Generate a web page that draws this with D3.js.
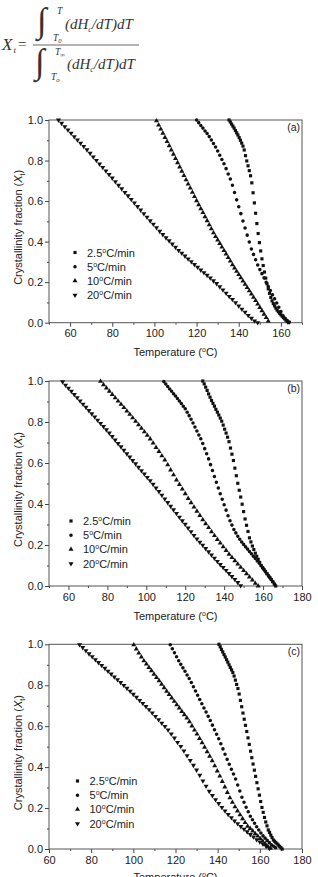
<!DOCTYPE html>
<html>
<head>
<meta charset="utf-8">
<script src="https://cdn.jsdelivr.net/npm/d3@7"></script>
<style>
body { margin: 0; background: #fff; }
svg { display: block; }
text { font-family: "Liberation Sans Narrow", "Arial Narrow", Arial, sans-serif; fill: #222; }
.eq text { font-family: "Liberation Serif", "DejaVu Serif", serif; font-style: italic; fill: #333; }
</style>
</head>
<body>
<svg id="fig" width="318" height="877"></svg>
<script>
// crystallinity fraction X(t) vs temperature
const rateLabels = ["2.5", "5", "10", "20"];
const panelTags = ["(a)", "(b)", "(c)"];
const yMajor = [0, 0.2, 0.4, 0.6, 0.8, 1.0];
const yMinor = [0.1, 0.3, 0.5, 0.7, 0.9];
const xMajorA = [60, 80, 100, 120, 140, 160];
const xMajorB = [60, 80, 100, 120, 140, 160, 180];
const xMajorC = [60, 80, 100, 120, 140, 160, 180];
const xMinorA = [50, 70, 90, 110, 130, 150, 170];
const xMinorB = [50, 70, 90, 110, 130, 150, 170];
const xMinorC = [70, 90, 110, 130, 150, 170];

// panel (a)
const a25 = [[135.4,1.000],[136.0,0.990],[136.6,0.980],[137.2,0.970],[137.8,0.960],[138.4,0.948],[139.0,0.937],[139.6,0.926],[140.2,0.913],[140.8,0.900],[141.4,0.886],[142.0,0.871],[142.6,0.852],[143.2,0.824],[143.8,0.798],[144.4,0.774],[145.0,0.750],[145.6,0.725],[146.2,0.690],[146.8,0.641],[147.4,0.591],[148.0,0.540],[148.6,0.489],[149.2,0.440],[149.8,0.395],[150.4,0.354],[151.0,0.315],[151.6,0.282],[152.2,0.250],[152.8,0.220],[153.4,0.192],[154.0,0.167],[154.6,0.145],[155.2,0.125],[155.8,0.108],[156.4,0.094],[157.0,0.083],[157.6,0.072],[158.2,0.062],[158.8,0.054],[159.4,0.046],[160.0,0.039],[160.6,0.032],[161.2,0.025],[161.8,0.019],[162.4,0.012],[163.0,0.006],[163.6,0.000]];
const a5 = [[120,1.000],[121,0.987],[122,0.973],[123,0.960],[124,0.946],[125,0.933],[126,0.918],[127,0.901],[128,0.884],[129,0.867],[130,0.847],[131,0.826],[132,0.805],[133,0.784],[134,0.760],[135,0.734],[136,0.709],[137,0.678],[138,0.642],[139,0.606],[140,0.572],[141,0.538],[142,0.502],[143,0.467],[144,0.432],[145,0.398],[146,0.364],[147,0.337],[148,0.311],[149,0.285],[150,0.262],[151,0.242],[152,0.221],[153,0.200],[154,0.179],[155,0.159],[156,0.138],[157,0.118],[158,0.097],[159,0.076],[160,0.055],[161,0.034],[162,0.022],[163,0.011],[164,0.003]];
const a10 = [[101,0.996],[102,0.975],[103,0.955],[104,0.935],[105,0.914],[106,0.894],[107,0.873],[108,0.852],[109,0.831],[110,0.810],[111,0.789],[112,0.768],[113,0.747],[114,0.726],[115,0.705],[116,0.684],[117,0.664],[118,0.643],[119,0.622],[120,0.602],[121,0.582],[122,0.562],[123,0.543],[124,0.523],[125,0.503],[126,0.483],[127,0.463],[128,0.443],[129,0.425],[130,0.408],[131,0.391],[132,0.373],[133,0.356],[134,0.339],[135,0.321],[136,0.304],[137,0.286],[138,0.270],[139,0.253],[140,0.237],[141,0.221],[142,0.205],[143,0.189],[144,0.173],[145,0.157],[146,0.141],[147,0.125],[148,0.109],[149,0.092],[150,0.075],[151,0.059],[152,0.042],[153,0.025],[154,0.008]];
const a20 = [[54.5,1.000],[56.0,0.984],[57.5,0.967],[59.0,0.951],[60.5,0.935],[62.0,0.918],[63.5,0.902],[65.0,0.886],[66.5,0.870],[68.0,0.853],[69.5,0.836],[71.0,0.818],[72.5,0.801],[74.0,0.783],[75.5,0.766],[77.0,0.749],[78.5,0.731],[80.0,0.714],[81.5,0.696],[83.0,0.678],[84.5,0.661],[86.0,0.643],[87.5,0.626],[89.0,0.608],[90.5,0.591],[92.0,0.573],[93.5,0.556],[95.0,0.538],[96.5,0.521],[98.0,0.503],[99.5,0.486],[101.0,0.469],[102.5,0.451],[104.0,0.435],[105.5,0.419],[107.0,0.404],[108.5,0.388],[110.0,0.372],[111.5,0.357],[113.0,0.343],[114.5,0.329],[116.0,0.315],[117.5,0.301],[119.0,0.287],[120.5,0.274],[122.0,0.260],[123.5,0.247],[125.0,0.234],[126.5,0.221],[128.0,0.207],[129.5,0.193],[131.0,0.177],[132.5,0.162],[134.0,0.146],[135.5,0.130],[137.0,0.115],[138.5,0.099],[140.0,0.083],[141.5,0.067],[143.0,0.052],[144.5,0.036],[146.0,0.022],[147.5,0.009],[149.0,0.000]];

// panel (b)
const b25 = [[129.00,1.000],[129.75,0.986],[130.50,0.970],[131.25,0.954],[132.00,0.937],[132.75,0.921],[133.50,0.905],[134.25,0.891],[135.00,0.877],[135.75,0.862],[136.50,0.848],[137.25,0.834],[138.00,0.819],[138.75,0.804],[139.50,0.785],[140.25,0.765],[141.00,0.746],[141.75,0.726],[142.50,0.704],[143.25,0.673],[144.00,0.643],[144.75,0.612],[145.50,0.575],[146.25,0.538],[147.00,0.501],[147.75,0.467],[148.50,0.434],[149.25,0.399],[150.00,0.363],[150.75,0.327],[151.50,0.296],[152.25,0.266],[153.00,0.235],[153.75,0.215],[154.50,0.195],[155.25,0.178],[156.00,0.160],[156.75,0.145],[157.50,0.130],[158.25,0.115],[159.00,0.100],[159.75,0.090],[160.50,0.080],[161.25,0.070],[162.00,0.060],[162.75,0.050],[163.50,0.041],[164.25,0.031],[165.00,0.021],[165.75,0.010],[166.50,0.000]];
const b5 = [[109,0.997],[110,0.985],[111,0.973],[112,0.961],[113,0.950],[114,0.938],[115,0.927],[116,0.915],[117,0.902],[118,0.890],[119,0.877],[120,0.865],[121,0.848],[122,0.831],[123,0.813],[124,0.795],[125,0.776],[126,0.756],[127,0.737],[128,0.718],[129,0.695],[130,0.670],[131,0.645],[132,0.620],[133,0.592],[134,0.563],[135,0.534],[136,0.506],[137,0.478],[138,0.450],[139,0.423],[140,0.396],[141,0.370],[142,0.343],[143,0.318],[144,0.297],[145,0.276],[146,0.259],[147,0.243],[148,0.228],[149,0.215],[150,0.203],[151,0.191],[152,0.180],[153,0.168],[154,0.157],[155,0.145],[156,0.134],[157,0.122],[158,0.111],[159,0.099],[160,0.086],[161,0.073],[162,0.060],[163,0.047],[164,0.034],[165,0.021],[166,0.007]];
const b10 = [[76.5,0.998],[78.0,0.982],[79.5,0.966],[81.0,0.950],[82.5,0.934],[84.0,0.918],[85.5,0.902],[87.0,0.886],[88.5,0.870],[90.0,0.853],[91.5,0.837],[93.0,0.820],[94.5,0.803],[96.0,0.786],[97.5,0.769],[99.0,0.752],[100.5,0.735],[102.0,0.717],[103.5,0.697],[105.0,0.676],[106.5,0.656],[108.0,0.635],[109.5,0.615],[111.0,0.591],[112.5,0.566],[114.0,0.542],[115.5,0.517],[117.0,0.495],[118.5,0.473],[120.0,0.450],[121.5,0.427],[123.0,0.406],[124.5,0.385],[126.0,0.365],[127.5,0.344],[129.0,0.323],[130.5,0.304],[132.0,0.285],[133.5,0.265],[135.0,0.246],[136.5,0.227],[138.0,0.209],[139.5,0.191],[141.0,0.173],[142.5,0.155],[144.0,0.139],[145.5,0.123],[147.0,0.107],[148.5,0.091],[150.0,0.075],[151.5,0.060],[153.0,0.044],[154.5,0.029],[156.0,0.013],[157.5,0.000]];
const b20 = [[57.0,0.996],[58.5,0.980],[60.0,0.965],[61.5,0.950],[63.0,0.934],[64.5,0.919],[66.0,0.903],[67.5,0.887],[69.0,0.872],[70.5,0.856],[72.0,0.840],[73.5,0.825],[75.0,0.809],[76.5,0.793],[78.0,0.778],[79.5,0.762],[81.0,0.746],[82.5,0.729],[84.0,0.712],[85.5,0.695],[87.0,0.679],[88.5,0.662],[90.0,0.645],[91.5,0.629],[93.0,0.612],[94.5,0.596],[96.0,0.579],[97.5,0.563],[99.0,0.547],[100.5,0.530],[102.0,0.514],[103.5,0.496],[105.0,0.478],[106.5,0.461],[108.0,0.443],[109.5,0.425],[111.0,0.407],[112.5,0.389],[114.0,0.372],[115.5,0.354],[117.0,0.336],[118.5,0.318],[120.0,0.301],[121.5,0.283],[123.0,0.265],[124.5,0.247],[126.0,0.230],[127.5,0.214],[129.0,0.199],[130.5,0.183],[132.0,0.167],[133.5,0.152],[135.0,0.136],[136.5,0.120],[138.0,0.105],[139.5,0.091],[141.0,0.076],[142.5,0.061],[144.0,0.046],[145.5,0.032],[147.0,0.017],[148.5,0.002]];

// panel (c)
const c25 = [[140.6,1.000],[141.2,0.988],[141.8,0.975],[142.4,0.963],[143.0,0.950],[143.6,0.938],[144.2,0.925],[144.8,0.913],[145.4,0.900],[146.0,0.887],[146.6,0.875],[147.2,0.862],[147.8,0.845],[148.4,0.825],[149.0,0.804],[149.6,0.784],[150.2,0.757],[150.8,0.726],[151.4,0.695],[152.0,0.664],[152.6,0.634],[153.2,0.604],[153.8,0.574],[154.4,0.543],[155.0,0.511],[155.6,0.478],[156.2,0.446],[156.8,0.415],[157.4,0.385],[158.0,0.355],[158.6,0.324],[159.2,0.294],[159.8,0.263],[160.4,0.232],[161.0,0.203],[161.6,0.179],[162.2,0.154],[162.8,0.132],[163.4,0.113],[164.0,0.093],[164.6,0.081],[165.2,0.068],[165.8,0.056],[166.4,0.044],[167.0,0.038],[167.6,0.031],[168.2,0.025],[168.8,0.019],[169.4,0.013],[170.0,0.006],[170.6,0.000]];
const c5 = [[117.5,0.998],[118.5,0.978],[119.5,0.959],[120.5,0.939],[121.5,0.920],[122.5,0.902],[123.5,0.885],[124.5,0.868],[125.5,0.850],[126.5,0.833],[127.5,0.813],[128.5,0.793],[129.5,0.772],[130.5,0.751],[131.5,0.730],[132.5,0.710],[133.5,0.689],[134.5,0.669],[135.5,0.648],[136.5,0.628],[137.5,0.605],[138.5,0.583],[139.5,0.561],[140.5,0.539],[141.5,0.514],[142.5,0.489],[143.5,0.463],[144.5,0.438],[145.5,0.414],[146.5,0.390],[147.5,0.366],[148.5,0.342],[149.5,0.313],[150.5,0.283],[151.5,0.253],[152.5,0.228],[153.5,0.204],[154.5,0.182],[155.5,0.160],[156.5,0.143],[157.5,0.126],[158.5,0.109],[159.5,0.093],[160.5,0.078],[161.5,0.064],[162.5,0.053],[163.5,0.042],[164.5,0.031],[165.5,0.020],[166.5,0.013],[167.5,0.006]];
const c10 = [[100.2,0.997],[101.4,0.977],[102.6,0.957],[103.8,0.938],[105.0,0.919],[106.2,0.903],[107.4,0.887],[108.6,0.871],[109.8,0.854],[111.0,0.838],[112.2,0.822],[113.4,0.805],[114.6,0.788],[115.8,0.771],[117.0,0.755],[118.2,0.738],[119.4,0.721],[120.6,0.705],[121.8,0.689],[123.0,0.672],[124.2,0.656],[125.4,0.640],[126.6,0.622],[127.8,0.601],[129.0,0.581],[130.2,0.561],[131.4,0.540],[132.6,0.519],[133.8,0.497],[135.0,0.475],[136.2,0.453],[137.4,0.431],[138.6,0.406],[139.8,0.381],[141.0,0.356],[142.2,0.330],[143.4,0.303],[144.6,0.276],[145.8,0.250],[147.0,0.228],[148.2,0.206],[149.4,0.186],[150.6,0.167],[151.8,0.148],[153.0,0.129],[154.2,0.111],[155.4,0.100],[156.6,0.088],[157.8,0.075],[159.0,0.063],[160.2,0.051],[161.4,0.038],[162.6,0.026],[163.8,0.013],[165.0,0.004]];
const c20 = [[74.5,0.998],[76.0,0.984],[77.5,0.969],[79.0,0.954],[80.5,0.940],[82.0,0.925],[83.5,0.911],[85.0,0.897],[86.5,0.883],[88.0,0.869],[89.5,0.855],[91.0,0.841],[92.5,0.827],[94.0,0.813],[95.5,0.799],[97.0,0.785],[98.5,0.771],[100.0,0.756],[101.5,0.741],[103.0,0.726],[104.5,0.711],[106.0,0.696],[107.5,0.681],[109.0,0.665],[110.5,0.648],[112.0,0.632],[113.5,0.615],[115.0,0.599],[116.5,0.582],[118.0,0.562],[119.5,0.542],[121.0,0.521],[122.5,0.501],[124.0,0.479],[125.5,0.456],[127.0,0.432],[128.5,0.409],[130.0,0.386],[131.5,0.360],[133.0,0.333],[134.5,0.307],[136.0,0.282],[137.5,0.261],[139.0,0.241],[140.5,0.222],[142.0,0.203],[143.5,0.186],[145.0,0.169],[146.5,0.153],[148.0,0.137],[149.5,0.124],[151.0,0.110],[152.5,0.097],[154.0,0.084],[155.5,0.071],[157.0,0.059],[158.5,0.046],[160.0,0.035],[161.5,0.024],[163.0,0.013],[164.5,0.003]];

const svg = d3.select("#fig");

// markers: square, circle, up triangle, down triangle
const shapes = [
    { type: d3.symbolSquare, size: 10, rot: 0 },
    { type: d3.symbolCircle, size: 10, rot: 0 },
    { type: d3.symbolTriangle, size: 11, rot: 0 },
    { type: d3.symbolTriangle, size: 11, rot: 180 }
];

const panels = [
    { top: 120, bottom: 322.7, xDomain: [50, 170], xMajor: xMajorA, xMinor: xMinorA, series: [a25, a5, a10, a20], legendX: 75, legendY: 252.5, titleY: 356 },
    { top: 381, bottom: 586, xDomain: [50, 180], xMajor: xMajorB, xMinor: xMinorB, series: [b25, b5, b10, b20], legendX: 71, legendY: 521, titleY: 620 },
    { top: 644.3, bottom: 849, xDomain: [60, 180], xMajor: xMajorC, xMinor: xMinorC, series: [c25, c5, c10, c20], legendX: 77.5, legendY: 781, titleY: 881 }
];

function drawPanel(p, i) {
    const x = d3.scaleLinear().domain(p.xDomain).range([49, 302]);
    const y = d3.scaleLinear().domain([0, 1]).range([p.bottom, p.top]);
    const g = svg.append("g");

    // minor ticks first, then labelled major ticks
    g.append("g")
        .attr("transform", `translate(0,${p.bottom})`)
        .call(d3.axisBottom(x).tickValues(p.xMinor).tickSize(2).tickSizeOuter(0).tickFormat(""));
    g.append("g")
        .attr("transform", `translate(0,${p.bottom})`)
        .call(d3.axisBottom(x).tickValues(p.xMajor).tickSize(4).tickSizeOuter(0).tickPadding(3).tickFormat(d3.format("d")));
    g.append("g")
        .attr("transform", "translate(49,0)")
        .call(d3.axisLeft(y).tickValues(yMinor).tickSize(2).tickSizeOuter(0).tickFormat(""));
    g.append("g")
        .attr("transform", "translate(49,0)")
        .call(d3.axisLeft(y).tickValues(yMajor).tickSize(4).tickSizeOuter(0).tickPadding(2).tickFormat(d3.format(".1f")));

    g.selectAll(".domain").remove();
    g.selectAll(".tick line").attr("stroke", "#444");
    g.selectAll(".tick text").attr("font-size", 11).attr("fill", "#222")
        .style("font-family", '"Liberation Sans Narrow", "Arial Narrow", Arial, sans-serif');

    g.append("rect")
        .attr("x", 49).attr("y", p.top)
        .attr("width", 253).attr("height", p.bottom - p.top)
        .attr("fill", "none").attr("stroke", "#555").attr("stroke-width", 1);

    p.series.forEach((s, k) => {
        const sh = shapes[k];
        g.append("g").selectAll("path")
            .data(s)
            .join("path")
            .attr("d", d3.symbol().type(sh.type).size(sh.size))
            .attr("transform", d => `translate(${x(d[0])},${y(d[1])}) rotate(${sh.rot})`)
            .attr("fill", "#111");
    });

    // legend
    const lg = g.append("g");
    rateLabels.forEach((r, k) => {
        const sh = shapes[k];
        const ly = p.legendY + k * 14.2;
        lg.append("path")
            .attr("d", d3.symbol().type(sh.type).size(sh.size)())
            .attr("transform", `translate(${p.legendX},${ly}) rotate(${sh.rot})`)
            .attr("fill", "#111");
        const t = lg.append("text")
            .attr("x", p.legendX + 12).attr("y", ly + 4)
            .attr("font-size", 11);
        t.append("tspan").text(r);
        t.append("tspan").attr("dy", -4).attr("font-size", 7).text("o");
        t.append("tspan").attr("dy", 4).text("C/min");
    });

    g.append("text")
        .attr("x", 300).attr("y", p.top + 11)
        .attr("text-anchor", "end").attr("font-size", 10.5)
        .text(panelTags[i]);

    const xt = g.append("text")
        .attr("x", 175.5).attr("y", p.titleY)
        .attr("text-anchor", "middle").attr("font-size", 11);
    xt.append("tspan").text("Temperature (");
    xt.append("tspan").attr("dy", -4).attr("font-size", 7).text("o");
    xt.append("tspan").attr("dy", 4).text("C)");

    const cy = (p.top + p.bottom) / 2 + 6;
    const yt = g.append("text")
        .attr("transform", `translate(22,${cy}) rotate(-90)`)
        .attr("text-anchor", "middle").attr("font-size", 11);
    yt.append("tspan").text("Crystallinity fraction (");
    yt.append("tspan").attr("font-style", "italic").text("X");
    yt.append("tspan").attr("dy", 3).attr("font-size", 7).text("t");
    yt.append("tspan").attr("dy", -3).text(")");
}

panels.forEach(drawPanel);

// equation at the top
const eq = svg.append("g").attr("class", "eq");
function addText(xp, yp, size, str, italic = true) {
    return eq.append("text").attr("x", xp).attr("y", yp).attr("font-size", size)
        .style("font-style", italic ? "italic" : "normal").text(str);
}
addText(2, 50, 17, "X");
addText(13.5, 53, 9, "t");
addText(18, 49, 15, "=", false);

addText(37, 32, 35, "\u222B", false);
addText(57, 14, 9.5, "T");
const n0 = addText(53, 41, 9.5, "T");
n0.append("tspan").attr("dy", 2).attr("font-size", 6.5).text("0");
const num = eq.append("text").attr("x", 65).attr("y", 29).attr("font-size", 15);
num.append("tspan").text("(dH");
num.append("tspan").attr("dy", 3).attr("font-size", 8).text("c");
num.append("tspan").attr("dy", -3).text("/dT)dT");

eq.append("line").attr("x1", 33).attr("x2", 139).attr("y1", 45).attr("y2", 45)
    .attr("stroke", "#555").attr("stroke-width", 0.9);

addText(35, 73, 35, "\u222B", false);
const d1 = addText(55, 55, 9.5, "T");
d1.append("tspan").attr("dy", 2).attr("font-size", 6.5).text("\u221E");
const d0 = addText(51, 80, 9.5, "T");
d0.append("tspan").attr("dy", 2).attr("font-size", 6.5).text("o");
const den = eq.append("text").attr("x", 67).attr("y", 69).attr("font-size", 15);
den.append("tspan").text("(dH");
den.append("tspan").attr("dy", 3).attr("font-size", 8).text("c");
den.append("tspan").attr("dy", -3).text("/dT)dT");
</script>
</body>
</html>
